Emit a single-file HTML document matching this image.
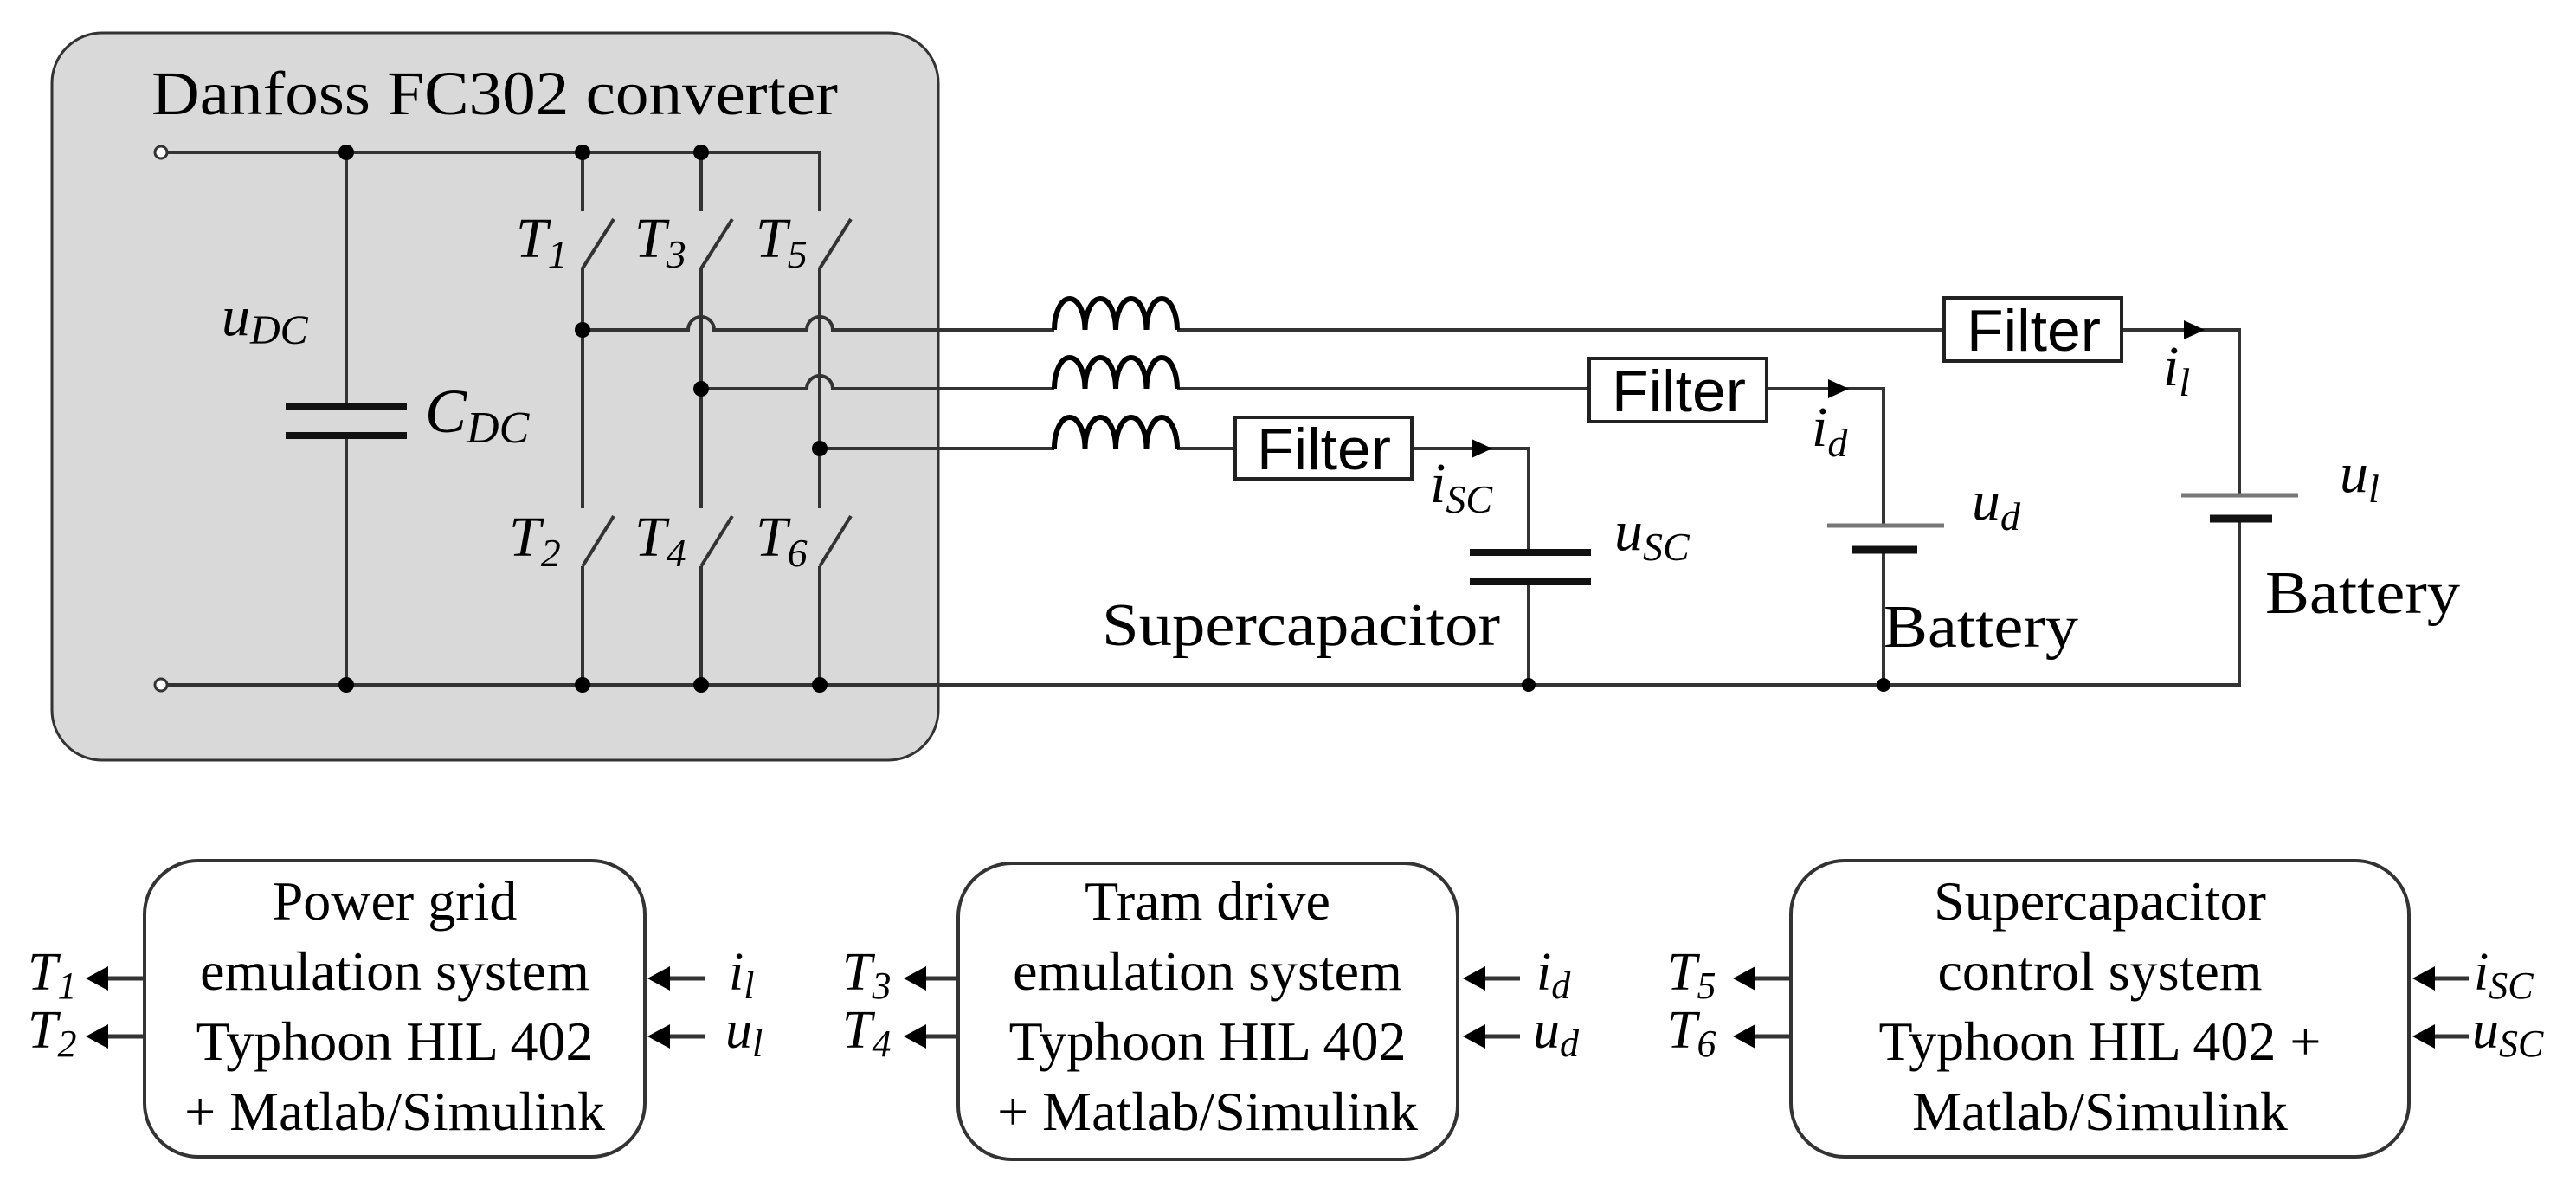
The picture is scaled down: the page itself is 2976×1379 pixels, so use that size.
<!DOCTYPE html>
<html><head><meta charset="utf-8"><style>
html,body{margin:0;padding:0;background:#fff;}
svg{display:block;}
text{font-family:"Liberation Serif",serif;fill:#000;}
.it{font-style:italic;}
.sf{font-family:"Liberation Sans",sans-serif;}
</style></head><body>
<svg width="2976" height="1379" viewBox="0 0 2976 1379" xmlns="http://www.w3.org/2000/svg">
<!-- converter box -->
<rect x="60" y="38" width="1024" height="840" rx="58" fill="#d9d9d9" stroke="#333" stroke-width="3"/>
<text x="175" y="132" font-size="72" textLength="793" lengthAdjust="spacingAndGlyphs">Danfoss FC302 converter</text>

<g stroke="#333" stroke-width="4" fill="none">
<path d="M193 176 H947 V244"/>
<path d="M193 791 H2587 V599"/>
<path d="M400 176 V470 M400 503 V791"/>
<path d="M673 176 V244 M673 310 L709 253 M673 310 V587 M673 654 L709 596 M673 654 V791"/>
<path d="M810 176 V244 M810 310 L846 253 M810 310 V587 M810 654 L846 596 M810 654 V791"/>
<path d="M947 310 L983 253 M947 310 V587 M947 654 L983 596 M947 654 V791"/>
<path d="M673 381 H795 a15 15 0 0 1 30 0 H932 a15 15 0 0 1 30 0 H1218"/>
<path d="M810 449 H932 a15 15 0 0 1 30 0 H1218"/>
<path d="M947 518 H1218"/>
<path d="M1360 381 H2246 M2451 381 H2587 V572"/>
<path d="M1360 449 H1836 M2041 449 H2176 V607 M2176 635 V791"/>
<path d="M1360 518 H1427 M1631 518 H1766 V638 M1766 672 V791"/>
</g>
<circle cx="186" cy="176" r="7" fill="#fff" stroke="#333" stroke-width="3"/>
<circle cx="186" cy="791" r="7" fill="#fff" stroke="#333" stroke-width="3"/>
<g fill="#000">
<circle cx="400" cy="176" r="9"/><circle cx="673" cy="176" r="9"/><circle cx="810" cy="176" r="9"/>
<circle cx="400" cy="791" r="9"/><circle cx="673" cy="791" r="9"/><circle cx="810" cy="791" r="9"/><circle cx="947" cy="791" r="9"/>
<circle cx="1766" cy="791" r="8"/><circle cx="2176" cy="791" r="8"/>
<circle cx="673" cy="381" r="9"/><circle cx="810" cy="449" r="9"/><circle cx="947" cy="518" r="9"/>
</g>
<path d="M330 470 H470 M330 503 H470" stroke="#111" stroke-width="8"/>
<g stroke="#000" stroke-width="6" fill="none">
<path d="M1218 381 a17.75 36 0 0 1 35.5 0 a17.75 36 0 0 1 35.5 0 a17.75 36 0 0 1 35.5 0 a17.75 36 0 0 1 35.5 0"/>
<path d="M1218 449 a17.75 36 0 0 1 35.5 0 a17.75 36 0 0 1 35.5 0 a17.75 36 0 0 1 35.5 0 a17.75 36 0 0 1 35.5 0"/>
<path d="M1218 518 a17.75 36 0 0 1 35.5 0 a17.75 36 0 0 1 35.5 0 a17.75 36 0 0 1 35.5 0 a17.75 36 0 0 1 35.5 0"/>
</g>
<g fill="#fff" stroke="#222" stroke-width="4">
<rect x="2246" y="344" width="205" height="73"/>
<rect x="1836" y="414" width="205" height="73"/>
<rect x="1427" y="482" width="204" height="71"/>
</g>
<g class="sf" font-size="68">
<text class="sf" x="2272" y="405" textLength="155" lengthAdjust="spacingAndGlyphs">Filter</text>
<text class="sf" x="1862" y="475" textLength="155" lengthAdjust="spacingAndGlyphs">Filter</text>
<text class="sf" x="1452" y="542" textLength="155" lengthAdjust="spacingAndGlyphs">Filter</text>
</g>
<g fill="#000">
<path d="M2547 381 l-24 -11 v22 z"/>
<path d="M2136 449 l-24 -11 v22 z"/>
<path d="M1724 518 l-24 -11 v22 z"/>
</g>
<path d="M1698 638 H1838 M1698 672 H1838" stroke="#111" stroke-width="8"/>
<path d="M2111 607 H2246 M2520 572 H2655" stroke="#777" stroke-width="5"/>
<path d="M2140 635 H2215 M2553 599 H2625" stroke="#111" stroke-width="9"/>

<g font-size="66" class="it">
<text class="it" x="256" y="387">u<tspan font-size="48" dy="10">DC</tspan></text>
<text class="it" x="491" y="499" font-size="72">C<tspan font-size="52" dy="12">DC</tspan></text>
<text class="it" x="596" y="297">T<tspan font-size="46" dy="12">1</tspan></text>
<text class="it" x="733" y="297">T<tspan font-size="46" dy="12">3</tspan></text>
<text class="it" x="873" y="297">T<tspan font-size="46" dy="12">5</tspan></text>
<text class="it" x="588" y="642">T<tspan font-size="46" dy="12">2</tspan></text>
<text class="it" x="733" y="642">T<tspan font-size="46" dy="12">4</tspan></text>
<text class="it" x="873" y="642">T<tspan font-size="46" dy="12">6</tspan></text>
<text class="it" x="1652" y="580">i<tspan font-size="46" dy="12">SC</tspan></text>
<text class="it" x="1865" y="635">u<tspan font-size="46" dy="12">SC</tspan></text>
<text class="it" x="2093" y="515">i<tspan font-size="46" dy="12">d</tspan></text>
<text class="it" x="2278" y="600">u<tspan font-size="46" dy="12">d</tspan></text>
<text class="it" x="2499" y="445">i<tspan font-size="46" dy="12">l</tspan></text>
<text class="it" x="2703" y="568">u<tspan font-size="46" dy="12">l</tspan></text>
</g>
<g font-size="70">
<text x="1273" y="745" textLength="460" lengthAdjust="spacingAndGlyphs">Supercapacitor</text>
<text x="2176" y="747" textLength="225" lengthAdjust="spacingAndGlyphs">Battery</text>
<text x="2617" y="708" textLength="225" lengthAdjust="spacingAndGlyphs">Battery</text>
</g>

<g fill="#fff" stroke="#333" stroke-width="4">
<rect x="167" y="994" width="578" height="342" rx="62"/>
<rect x="1107" y="997" width="577" height="342" rx="62"/>
<rect x="2069" y="994" width="714" height="342" rx="62"/>
</g>
<g font-size="64" text-anchor="middle">
<text x="456" y="1062">Power grid</text>
<text x="456" y="1143">emulation system</text>
<text x="456" y="1224">Typhoon HIL 402</text>
<text x="456" y="1305">+ Matlab/Simulink</text>
<text x="1395" y="1062">Tram drive</text>
<text x="1395" y="1143">emulation system</text>
<text x="1395" y="1224">Typhoon HIL 402</text>
<text x="1395" y="1305">+ Matlab/Simulink</text>
<text x="2426" y="1062">Supercapacitor</text>
<text x="2426" y="1143">control system</text>
<text x="2426" y="1224">Typhoon HIL 402 +</text>
<text x="2426" y="1305">Matlab/Simulink</text>
</g>
<g stroke="#333" stroke-width="5">
<path d="M167 1130 H115 M167 1197 H115"/>
<path d="M815 1130 H765 M815 1197 H765"/>
<path d="M1107 1130 H1060 M1107 1197 H1060"/>
<path d="M1756 1130 H1706 M1756 1197 H1706"/>
<path d="M2069 1130 H2018 M2069 1197 H2018"/>
<path d="M2852 1130 H2803 M2852 1197 H2803"/>
</g>
<g fill="#000">
<path d="M99 1130 l26 -14 v28 z"/><path d="M99 1197 l26 -14 v28 z"/>
<path d="M748 1130 l26 -14 v28 z"/><path d="M748 1197 l26 -14 v28 z"/>
<path d="M1044 1130 l26 -14 v28 z"/><path d="M1044 1197 l26 -14 v28 z"/>
<path d="M1690 1130 l26 -14 v28 z"/><path d="M1690 1197 l26 -14 v28 z"/>
<path d="M2002 1130 l26 -14 v28 z"/><path d="M2002 1197 l26 -14 v28 z"/>
<path d="M2787 1130 l26 -14 v28 z"/><path d="M2787 1197 l26 -14 v28 z"/>
</g>
<g font-size="62">
<text class="it" x="32" y="1143">T<tspan font-size="44" dy="10">1</tspan></text>
<text class="it" x="32" y="1210">T<tspan font-size="44" dy="10">2</tspan></text>
<text class="it" x="842" y="1143">i<tspan font-size="44" dy="10">l</tspan></text>
<text class="it" x="838" y="1210">u<tspan font-size="44" dy="10">l</tspan></text>
<text class="it" x="973" y="1143">T<tspan font-size="44" dy="10">3</tspan></text>
<text class="it" x="973" y="1210">T<tspan font-size="44" dy="10">4</tspan></text>
<text class="it" x="1775" y="1143">i<tspan font-size="44" dy="10">d</tspan></text>
<text class="it" x="1771" y="1210">u<tspan font-size="44" dy="10">d</tspan></text>
<text class="it" x="1926" y="1143">T<tspan font-size="44" dy="10">5</tspan></text>
<text class="it" x="1926" y="1210">T<tspan font-size="44" dy="10">6</tspan></text>
<text class="it" x="2858" y="1143">i<tspan font-size="44" dy="10">SC</tspan></text>
<text class="it" x="2856" y="1210">u<tspan font-size="44" dy="10">SC</tspan></text>
</g>
</svg>
</body></html>
